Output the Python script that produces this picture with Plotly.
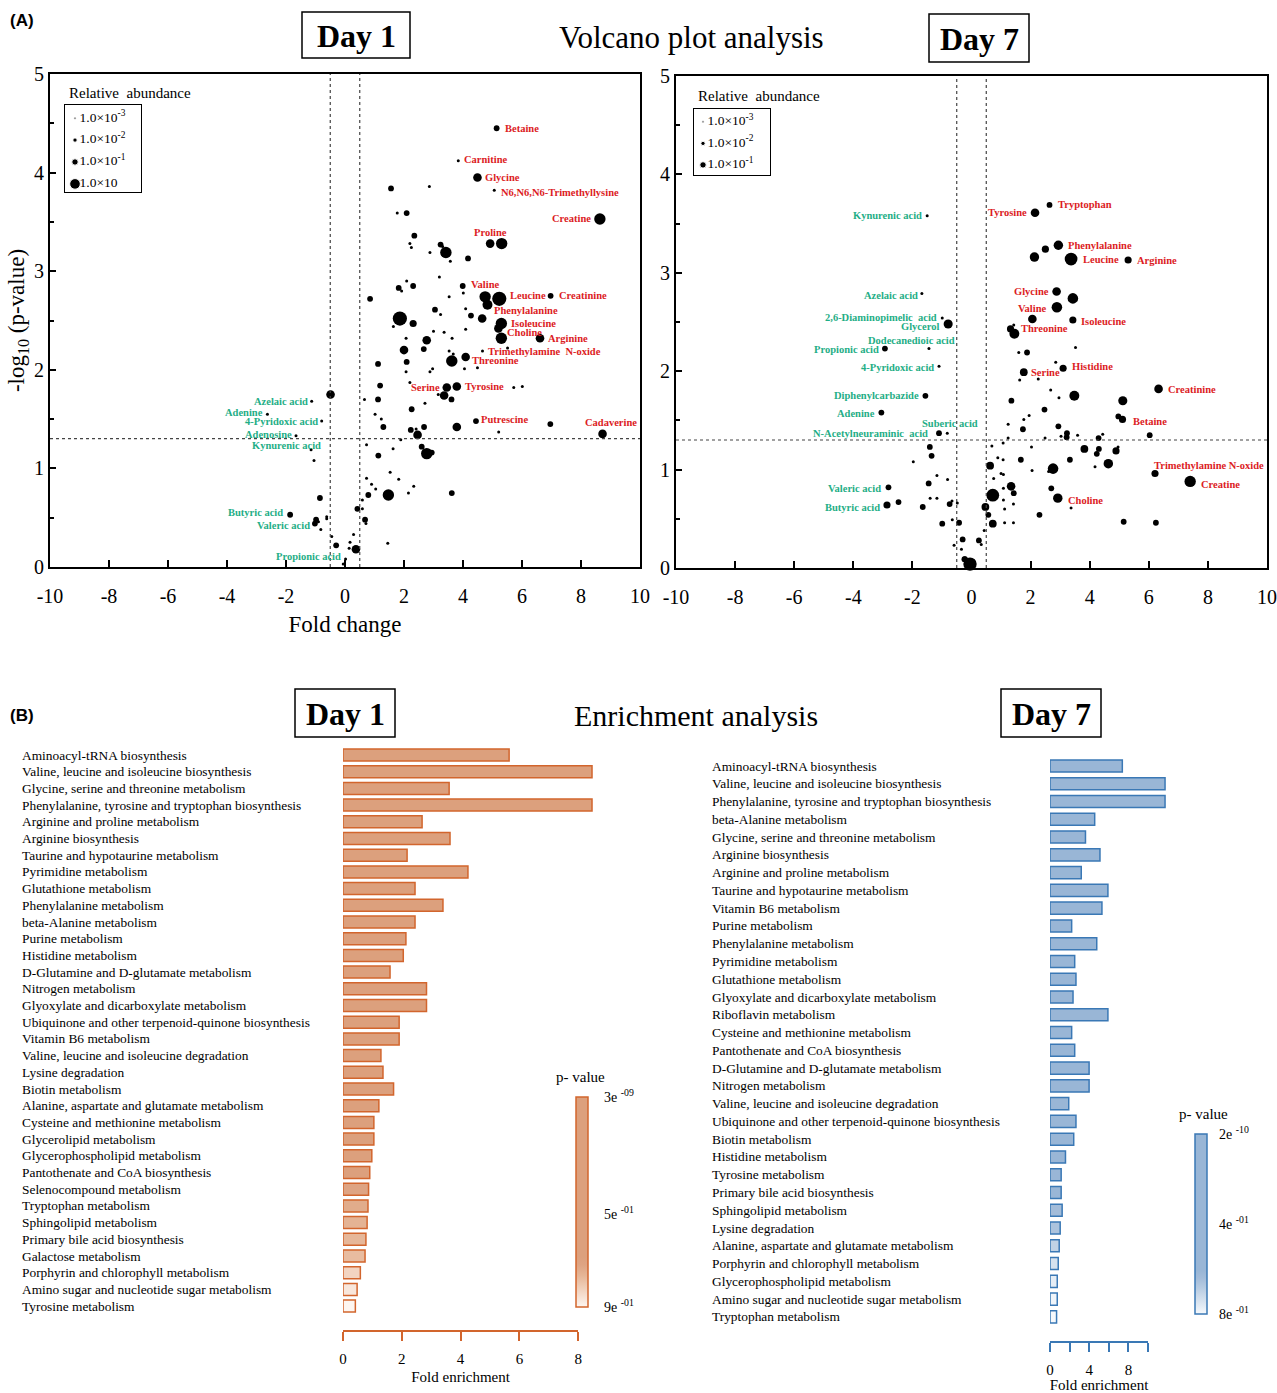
import math
import plotly.graph_objects as go

W, H = 1277, 1393
def px(x): return x / W
def py(y): return 1 - y / H

SERIF = "Liberation Serif"
RED = "#dc1c24"
GREEN = "#1fae86"
ORANGE = "#d2652d"
BLUE = "#3a78b5"

FC_CUT = 0.5
P_CUT = 0.05

# ---------------- Volcano Day 1 ----------------
d1_up_names = ["Betaine", "Carnitine", "Glycine", "N6,N6,N6-Trimethyllysine", "Creatine", "Proline",
               "Valine", "Leucine", "Creatinine", "Phenylalanine", "Isoleucine", "Choline", "Arginine",
               "Trimethylamine  N-oxide", "Threonine", "Serine", "Tyrosine", "Putrescine", "Cadaverine"]
d1_up_fc = [5.14, 3.84, 4.49, 5.06, 8.64, 4.92, 4.75, 5.23, 6.97, 4.83, 5.30, 5.30, 6.61, 4.66, 4.09,
            3.45, 3.79, 4.44, 8.73]
d1_up_logp = [4.45, 4.12, 3.95, 3.82, 3.53, 3.28, 2.74, 2.72, 2.75, 2.66, 2.47, 2.32, 2.32, 2.19, 2.13,
              1.82, 1.83, 1.48, 1.35]
d1_up_abund = [0.01, 0.001, 0.1, 0.001, 1, 0.1, 1, 10, 0.01, 0.3, 1, 1, 0.1, 0.001, 0.1, 0.1, 0.1, 0.01, 0.1]

d1_down_names = ["Azelaic acid", "Adenine", "4-Pyridoxic acid", "Adenosine", "Kynurenic acid",
                 "Butyric acid", "Valeric acid", "Propionic acid"]
d1_down_fc = [-1.13, -2.63, -0.79, -1.66, -1.15, -1.86, -1.02, 0.02]
d1_down_logp = [1.68, 1.55, 1.48, 1.33, 1.19, 0.53, 0.44, 0.08]
d1_down_abund = [0.001, 0.001, 0.001, 0.001, 0.001, 0.01, 0.01, 0.001]

d1_other_fc = [1.56, 2.86, 1.77, 2.09, 5.31, 2.35, 2.20, 2.25, 3.24, 3.31,
               3.42, 2.88, 3.57, 4.17, 3.20, 2.09, 1.82, 1.92, 2.31, 3.99,
               4.01, 3.53, 0.85, 4.09, 4.27, 4.65, 1.86, 2.31, 1.64, 3.05,
               3.24, 5.20, 4.09, 3.00, 3.36, 3.63, 2.07, 2.77, 2.00, 2.67,
               3.53, 3.67, 5.51, 3.62, 2.09, 1.12, 4.49, 4.05, 2.97, 2.88,
               2.07, 1.19, 2.20, 5.72, 6.01, 3.16, 3.36, 3.61, 1.12, 0.66,
               2.71, 2.26, -0.49, 1.02, 1.23, 1.30, 3.79, 2.23, 2.41, 2.68,
               2.46, 5.21, 6.96, 1.89, 0.73, 1.63, 2.60, 2.77, 2.94, 1.13,
               1.53, 0.73, 1.82, 0.90, 1.04, 2.33, 0.79, 1.47, 2.15, 3.62,
               0.59, 0.42, 0.59, 0.68, 0.71, 0.29, 0.17, -0.30, 0.37, 1.45,
               0.14, -0.45, -0.06, -1.05, -0.85, -0.98, -0.90, -0.82, -0.62, -0.62]
d1_other_logp = [3.84, 3.86, 3.59, 3.59, 3.28, 3.36, 3.28, 3.24, 3.27, 3.25,
                 3.19, 3.19, 3.10, 3.13, 2.94, 2.90, 2.83, 2.80, 2.85, 2.85,
                 2.78, 2.74, 2.72, 2.62, 2.55, 2.52, 2.52, 2.47, 2.44, 2.61,
                 2.56, 2.42, 2.41, 2.39, 2.38, 2.32, 2.32, 2.30, 2.20, 2.21,
                 2.19, 2.16, 2.22, 2.09, 2.08, 2.06, 2.02, 2.01, 2.01, 1.98,
                 1.98, 1.84, 1.87, 1.82, 1.83, 1.75, 1.74, 1.70, 1.70, 1.70,
                 1.66, 1.60, 1.75, 1.55, 1.50, 1.42, 1.42, 1.39, 1.40, 1.42,
                 1.34, 1.37, 1.45, 1.29, 1.24, 1.20, 1.22, 1.15, 1.16, 1.13,
                 0.96, 0.90, 0.89, 0.84, 0.79, 0.82, 0.73, 0.73, 0.75, 0.75,
                 0.68, 0.59, 0.59, 0.48, 0.44, 0.33, 0.25, 0.22, 0.18, 0.24,
                 0.19, 0.31, 0.03, 1.08, 0.70, 0.48, 0.46, 0.38, 0.49, 0.51]
d1_other_abund = [0.01, 0.001, 0.001, 0.01, 1, 0.01, 0.001, 0.001, 0.01, 0.001,
                  1, 0.001, 0.001, 0.01, 0.001, 0.001, 0.01, 0.001, 0.01, 0.01,
                  0.001, 0.001, 0.01, 0.001, 0.01, 0.1, 10, 0.03, 0.001, 0.01,
                  0.001, 0.1, 0.001, 0.001, 0.001, 0.001, 0.001, 0.1, 0.1, 0.01,
                  0.001, 0.001, 0.001, 1, 0.01, 0.01, 0.001, 0.001, 0.001, 0.001,
                  0.001, 0.01, 0.001, 0.001, 0.001, 0.001, 0.1, 0.01, 0.01, 0.001,
                  0.001, 0.01, 0.1, 0.001, 0.001, 0.01, 0.1, 0.01, 0.001, 0.01,
                  0.1, 0.001, 0.01, 0.001, 0.001, 0.001, 0.01, 1, 0.01, 0.01,
                  0.001, 0.001, 0.001, 0.001, 0.001, 0.001, 0.01, 1, 0.001, 0.01,
                  0.001, 0.01, 0.001, 0.01, 0.001, 0.001, 0.001, 0.01, 0.1, 0.001,
                  0.001, 0.001, 0.001, 0.001, 0.01, 0.01, 0.001, 0.001, 0.001, 0.001]

# ---------------- Volcano Day 7 ----------------
d7_up_names = ["Tyrosine", "Tryptophan", "Phenylalanine", "Leucine", "Arginine", "Glycine", "Valine",
               "Isoleucine", "Threonine", "Serine", "Histidine", "Creatinine", "Betaine",
               "Trimethylamine N-oxide", "Creatine", "Choline"]
d7_up_fc = [2.15, 2.64, 2.94, 3.37, 5.30, 2.88, 2.89, 3.43, 1.32, 1.77, 3.10, 6.33, 5.11, 6.21, 7.40, 2.92]
d7_up_logp = [3.61, 3.69, 3.28, 3.14, 3.13, 2.81, 2.65, 2.52, 2.43, 1.99, 2.03, 1.82, 1.51, 0.96, 0.88, 0.71]
d7_up_abund = [0.1, 0.01, 0.2, 3, 0.03, 0.1, 0.5, 0.03, 0.03, 0.05, 0.03, 0.1, 0.03, 0.03, 1, 0.2]

d7_down_names = ["Kynurenic acid", "Azelaic acid", "2,6-Diaminopimelic  acid", "Glycerol",
                 "Dodecanedioic acid", "Propionic acid", "4-Pyridoxic acid", "Diphenylcarbazide",
                 "Adenine", "Suberic acid", "N-Acetylneuraminic  acid", "Valeric acid", "Butyric acid"]
d7_down_fc = [-1.50, -1.68, -0.99, -0.79, -1.44, -2.93, -1.10, -1.56, -3.05, -0.82, -1.10, -2.81, -2.86]
d7_down_logp = [3.58, 2.79, 2.54, 2.48, 2.23, 2.23, 2.05, 1.75, 1.58, 1.37, 1.37, 0.82, 0.64]
d7_down_abund = [0.001, 0.001, 0.001, 0.15, 0.001, 0.01, 0.001, 0.01, 0.01, 0.001, 0.01, 0.01, 0.03]

d7_other_fc = [2.50, 2.13, 3.43, 2.06, 1.43, 1.45, 3.52, 1.60, 1.88, 2.85,
               1.63, 2.26, 2.68, 2.96, 3.48, 5.12, 1.35, 2.47, 1.77, 1.95,
               4.97, 1.24, 1.74, 2.94, 3.23, 3.03, 3.22, 3.59, 4.44, 4.30,
               6.03, 2.49, 1.24, 1.07, 0.69, 2.03, 3.82, 4.31, 4.24, 4.89,
               4.96, 4.63, 3.33, 4.18, 0.89, 1.07, 1.67, 0.63, 2.76, 2.61,
               2.05, 1.00, 1.08, 0.75, 1.34, 1.43, 1.08, 0.72, 2.70, 1.08,
               1.42, 1.12, 3.37, 0.47, 0.57, 2.30, 0.72, 1.12, 1.42, 5.15,
               6.24, 0.43, 0.25, 0.33, -0.24, -0.05, -1.41, -1.35, -1.97, -1.17,
               -0.81, -1.45, -2.47, -1.65, -1.40, -1.17, -0.74, -0.66, -0.48, -0.99,
               -0.65, -0.42, -0.30, -0.59, -0.34, -0.22]
d7_other_logp = [3.24, 3.16, 2.74, 2.53, 2.47, 2.38, 2.24, 2.19, 2.19, 2.09,
                 1.91, 1.92, 1.81, 1.73, 1.75, 1.70, 1.70, 1.61, 1.51, 1.55,
                 1.54, 1.46, 1.41, 1.44, 1.37, 1.34, 1.33, 1.35, 1.36, 1.32,
                 1.35, 1.32, 1.32, 1.27, 1.24, 1.23, 1.21, 1.21, 1.16, 1.19,
                 1.23, 1.06, 1.10, 1.03, 1.12, 1.10, 1.10, 1.04, 1.01, 0.98,
                 0.99, 0.96, 0.95, 0.91, 0.83, 0.76, 0.81, 0.74, 0.81, 0.69,
                 0.65, 0.60, 0.61, 0.62, 0.54, 0.54, 0.45, 0.46, 0.46, 0.47,
                 0.46, 0.38, 0.28, 0.24, 0.09, 0.04, 1.23, 1.14, 1.08, 0.94,
                 0.90, 0.86, 0.67, 0.62, 0.71, 0.71, 0.65, 0.68, 0.66, 0.45,
                 0.49, 0.46, 0.29, 0.23, 0.19, 0.09]
d7_other_abund = [0.03, 0.2, 0.5, 0.1, 0.001, 0.3, 0.001, 0.001, 0.01, 0.001,
                  0.001, 0.001, 0.001, 0.001, 0.3, 0.15, 0.01, 0.01, 0.001, 0.001,
                  0.01, 0.001, 0.01, 0.01, 0.01, 0.001, 0.01, 0.001, 0.001, 0.01,
                  0.01, 0.001, 0.001, 0.001, 0.001, 0.001, 0.05, 0.01, 0.01, 0.03,
                  0.001, 0.2, 0.01, 0.001, 0.001, 0.001, 0.01, 0.05, 0.5, 0.001,
                  0.001, 0.001, 0.001, 0.001, 0.1, 0.01, 0.001, 3, 0.01, 0.001,
                  0.001, 0.001, 0.001, 0.05, 0.01, 0.01, 0.05, 0.001, 0.001, 0.01,
                  0.01, 0.001, 0.01, 0.001, 0.01, 5, 0.01, 0.01, 0.001, 0.001,
                  0.001, 0.01, 0.01, 0.01, 0.001, 0.001, 0.01, 0.001, 0.001, 0.01,
                  0.001, 0.01, 0.01, 0.001, 0.001, 0.01]

legend1_abund = [1e-3, 1e-2, 1e-1, 10]
legend1_text = ["1.0×10<sup>-3</sup>", "1.0×10<sup>-2</sup>", "1.0×10<sup>-1</sup>", "1.0×10"]
legend7_abund = [1e-3, 1e-2, 1e-1]
legend7_text = ["1.0×10<sup>-3</sup>", "1.0×10<sup>-2</sup>", "1.0×10<sup>-1</sup>"]

# ---------------- Enrichment Day 1 ----------------
enr1_paths = ["Aminoacyl-tRNA biosynthesis", "Valine, leucine and isoleucine biosynthesis",
              "Glycine, serine and threonine metabolism", "Phenylalanine, tyrosine and tryptophan biosynthesis",
              "Arginine and proline metabolism", "Arginine biosynthesis", "Taurine and hypotaurine metabolism",
              "Pyrimidine metabolism", "Glutathione metabolism", "Phenylalanine metabolism",
              "beta-Alanine metabolism", "Purine metabolism", "Histidine metabolism",
              "D-Glutamine and D-glutamate metabolism", "Nitrogen metabolism",
              "Glyoxylate and dicarboxylate metabolism", "Ubiquinone and other terpenoid-quinone biosynthesis",
              "Vitamin B6 metabolism", "Valine, leucine and isoleucine degradation", "Lysine degradation",
              "Biotin metabolism", "Alanine, aspartate and glutamate metabolism",
              "Cysteine and methionine metabolism", "Glycerolipid metabolism", "Glycerophospholipid metabolism",
              "Pantothenate and CoA biosynthesis", "Selenocompound metabolism", "Tryptophan metabolism",
              "Sphingolipid metabolism", "Primary bile acid biosynthesis", "Galactose metabolism",
              "Porphyrin and chlorophyll metabolism", "Amino sugar and nucleotide sugar metabolism",
              "Tyrosine metabolism"]
enr1_fold = [5.65, 8.47, 3.61, 8.47, 2.69, 3.64, 2.18, 4.25, 2.45, 3.40, 2.45, 2.14, 2.05, 1.60, 2.84,
             2.84, 1.91, 1.91, 1.29, 1.36, 1.72, 1.22, 1.05, 1.05, 0.98, 0.91, 0.87, 0.85, 0.82, 0.78,
             0.75, 0.59, 0.48, 0.42]
enr1_p = [3e-9, 2e-6, 5e-6, 8e-5, 1e-4, 3e-4, 0.01, 0.02, 0.03, 0.04, 0.05, 0.06, 0.08, 0.1, 0.12,
          0.14, 0.18, 0.2, 0.24, 0.27, 0.3, 0.35, 0.4, 0.45, 0.5, 0.6, 0.72, 0.74, 0.76, 0.77, 0.78,
          0.83, 0.87, 0.9]
enr1_pticks = [3e-9, 0.5, 0.9]
enr1_ptext = ["3e <sup>-09</sup>", "5e <sup>-01</sup>", "9e <sup>-01</sup>"]

# ---------------- Enrichment Day 7 ----------------
enr7_paths = ["Aminoacyl-tRNA biosynthesis", "Valine, leucine and isoleucine biosynthesis",
              "Phenylalanine, tyrosine and tryptophan biosynthesis", "beta-Alanine metabolism",
              "Glycine, serine and threonine metabolism", "Arginine biosynthesis",
              "Arginine and proline metabolism", "Taurine and hypotaurine metabolism", "Vitamin B6 metabolism",
              "Purine metabolism", "Phenylalanine metabolism", "Pyrimidine metabolism",
              "Glutathione metabolism", "Glyoxylate and dicarboxylate metabolism", "Riboflavin metabolism",
              "Cysteine and methionine metabolism", "Pantothenate and CoA biosynthesis",
              "D-Glutamine and D-glutamate metabolism", "Nitrogen metabolism",
              "Valine, leucine and isoleucine degradation", "Ubiquinone and other terpenoid-quinone biosynthesis",
              "Biotin metabolism", "Histidine metabolism", "Tyrosine metabolism",
              "Primary bile acid biosynthesis", "Sphingolipid metabolism", "Lysine degradation",
              "Alanine, aspartate and glutamate metabolism", "Porphyrin and chlorophyll metabolism",
              "Glycerophospholipid metabolism", "Amino sugar and nucleotide sugar metabolism",
              "Tryptophan metabolism"]
enr7_fold = [7.38, 11.74, 11.74, 4.56, 3.62, 5.10, 3.19, 5.91, 5.30, 2.21, 4.77, 2.52, 2.65, 2.35, 5.91,
             2.21, 2.52, 3.99, 3.99, 1.91, 2.65, 2.42, 1.58, 1.14, 1.14, 1.24, 1.04, 0.94, 0.84, 0.74,
             0.74, 0.67]
enr7_p = [2e-10, 1e-8, 1e-8, 1e-5, 2e-5, 5e-5, 1e-4, 5e-4, 1e-3, 0.01, 0.02, 0.03, 0.04, 0.05, 0.06,
          0.08, 0.1, 0.12, 0.15, 0.18, 0.2, 0.25, 0.3, 0.4, 0.5, 0.64, 0.66, 0.7, 0.74, 0.77, 0.79, 0.8]
enr7_pticks = [2e-10, 0.4, 0.8]
enr7_ptext = ["2e <sup>-10</sup>", "4e <sup>-01</sup>", "8e <sup>-01</sup>"]


def dot_size(a):
    return 3 + 2.8 * (math.log10(a) + 3)


# label placement (anchor, x pixel shift, y pixel shift)
D1_LABEL_STYLE = {
    "Betaine": ("left", 6, 0), "Carnitine": ("left", 4, 1), "Glycine": ("left", 6, 0),
    "N6,N6,N6-Trimethyllysine": ("left", 5, -2), "Creatine": ("right", -7, 0),
    "Proline": ("center", 0, 11), "Valine": ("center", 0, 12), "Leucine": ("left", 9, 3),
    "Creatinine": ("left", 6, 0), "Phenylalanine": ("left", 5, -6), "Isoleucine": ("left", 8, 0),
    "Choline": ("left", 4, 6), "Arginine": ("left", 6, 0), "Trimethylamine  N-oxide": ("left", 4, 0),
    "Threonine": ("left", 4, -4), "Serine": ("right", -5, 0), "Tyrosine": ("left", 6, 0),
    "Putrescine": ("left", 3, 2), "Cadaverine": ("center", 8, 11),
    "Azelaic acid": ("right", -2, 0), "Adenine": ("right", -2, 2), "4-Pyridoxic acid": ("right", -2, 0),
    "Adenosine": ("right", -2, 1), "Kynurenic acid": ("right", 12, 4), "Butyric acid": ("right", -5, 2),
    "Valeric acid": ("right", -3, -2), "Propionic acid": ("right", -3, 3),
}
D7_LABEL_STYLE = {
    "Tyrosine": ("right", -6, 0), "Tryptophan": ("left", 6, 0), "Phenylalanine": ("left", 8, 0),
    "Leucine": ("left", 10, 0), "Arginine": ("left", 7, 0), "Glycine": ("right", -6, 0),
    "Valine": ("right", -8, -1), "Isoleucine": ("left", 6, -1), "Threonine": ("left", 8, 0),
    "Serine": ("left", 5, 0), "Histidine": ("left", 7, 2), "Creatinine": ("left", 7, -1),
    "Betaine": ("left", 8, -2), "Trimethylamine N-oxide": ("left", -3, 8), "Creatine": ("left", 9, -3),
    "Choline": ("left", 8, -2),
    "Kynurenic acid": ("right", -3, 0), "Azelaic acid": ("right", -2, -2),
    "2,6-Diaminopimelic  acid": ("right", -3, 1), "Glycerol": ("right", -7, -3),
    "Dodecanedioic acid": ("center", -17, 8), "Propionic acid": ("right", -4, -1),
    "4-Pyridoxic acid": ("right", -3, -1), "Diphenylcarbazide": ("right", -4, 0),
    "Adenine": ("right", -4, -1), "Suberic acid": ("center", 3, 10),
    "N-Acetylneuraminic  acid": ("right", -9, 0), "Valeric acid": ("right", -5, -1),
    "Butyric acid": ("right", -5, -2),
}

fig = go.Figure()


def add_points(fc, lp, ab, xa, ya):
    fig.add_trace(go.Scatter(x=fc, y=lp, mode="markers",
                             marker=dict(color="black", opacity=1, size=[dot_size(a) for a in ab],
                                         line=dict(width=0)),
                             cliponaxis=False, xaxis=xa, yaxis=ya, showlegend=False, hoverinfo="skip"))


add_points(d1_other_fc, d1_other_logp, d1_other_abund, "x", "y")
add_points(d1_up_fc, d1_up_logp, d1_up_abund, "x", "y")
add_points(d1_down_fc, d1_down_logp, d1_down_abund, "x", "y")
add_points(d7_other_fc, d7_other_logp, d7_other_abund, "x2", "y2")
add_points(d7_up_fc, d7_up_logp, d7_up_abund, "x2", "y2")
add_points(d7_down_fc, d7_down_logp, d7_down_abund, "x2", "y2")

# legends (size keys)
for abund, texts, xa, ya in [(legend1_abund, legend1_text, "x3", "y3"),
                             (legend7_abund, legend7_text, "x4", "y4")]:
    idx = list(range(len(abund)))
    fig.add_trace(go.Scatter(x=[0] * len(abund), y=idx, mode="markers",
                             marker=dict(color="black", opacity=1, size=[dot_size(a) * 0.75 for a in abund]),
                             xaxis=xa, yaxis=ya, showlegend=False, hoverinfo="skip"))
    fig.add_trace(go.Scatter(x=[0.45] * len(abund), y=idx, mode="text", text=texts,
                             textposition="middle right",
                             textfont=dict(family=SERIF, size=13.5, color="black"),
                             xaxis=xa, yaxis=ya, showlegend=False, hoverinfo="skip", cliponaxis=False))

# enrichment bars
fig.add_trace(go.Bar(y=enr1_paths, x=enr1_fold, orientation="h", width=0.72,
                     marker=dict(color=[-p for p in enr1_p], coloraxis="coloraxis",
                                 line=dict(color=ORANGE, width=1.5)),
                     xaxis="x5", yaxis="y5", showlegend=False, hoverinfo="skip"))
fig.add_trace(go.Scatter(x=[None], y=[None], xaxis="x6", yaxis="y5", showlegend=False))

fig.add_trace(go.Bar(y=enr7_paths, x=enr7_fold, orientation="h", width=0.68,
                     marker=dict(color=[-p for p in enr7_p], coloraxis="coloraxis2",
                                 line=dict(color=BLUE, width=1.5)),
                     xaxis="x7", yaxis="y7", showlegend=False, hoverinfo="skip"))
fig.add_trace(go.Scatter(x=[None], y=[None], xaxis="x8", yaxis="y7", showlegend=False))

tickfont20 = dict(family=SERIF, size=20, color="black")
xt = list(range(-10, 11, 2))
vol_x = dict(range=[-10, 10], showline=True, mirror=True, linecolor="black", linewidth=2,
             ticks="inside", ticklen=7, tickwidth=1.5, tickcolor="black",
             tickvals=xt, ticktext=[str(v) for v in xt], tickfont=tickfont20,
             showgrid=False, zeroline=False, ticklabelstandoff=10, automargin=False)
vol_y = dict(range=[0, 5], showline=True, mirror=True, linecolor="black", linewidth=2,
             ticks="inside", ticklen=6, tickwidth=1.5, tickcolor="black",
             tickvals=[0, 1, 2, 3, 4, 5], tickfont=tickfont20, showgrid=False, zeroline=False,
             automargin=False,
             minor=dict(dtick=0.5, tick0=0, ticks="inside", ticklen=4, tickcolor="black"))

leg_ax = dict(showline=True, mirror=True, linecolor="black", linewidth=1, showticklabels=False,
              ticks="", showgrid=False, zeroline=False, fixedrange=True, automargin=False)
hidden = dict(visible=False, showgrid=False, zeroline=False, automargin=False)

n1 = len(enr1_paths)
n7 = len(enr7_paths)
row1 = 16.7
row7 = 17.77

cbar_common = dict(xanchor="left", thickness=12, thicknessmode="pixels", lenmode="pixels",
                   yanchor="middle", xpad=0, ypad=0, outlinewidth=1.5, ticks="outside",
                   tickcolor="rgba(0,0,0,0)", tickfont=dict(family=SERIF, size=14))

layout = dict(
    template="none",
    width=W, height=H, margin=dict(l=0, r=0, t=0, b=0, pad=0, autoexpand=False),
    paper_bgcolor="white", plot_bgcolor="rgba(0,0,0,0)",
    font=dict(family=SERIF, color="black"),
    xaxis=dict(vol_x, domain=[px(50), px(640)], anchor="y",
               title=dict(text="Fold change", font=dict(family=SERIF, size=23), standoff=10)),
    yaxis=dict(vol_y, domain=[py(567), py(74)], anchor="x",
               title=dict(text="-log<sub>10</sub> (p-value)", font=dict(family=SERIF, size=23), standoff=3)),
    xaxis2=dict(vol_x, domain=[px(676), px(1267)], anchor="y2"),
    yaxis2=dict(vol_y, domain=[py(568), py(76)], anchor="x2"),
    xaxis3=dict(leg_ax, domain=[px(65), px(141)], range=[-1, 6.6], anchor="y3"),
    yaxis3=dict(leg_ax, domain=[py(192), py(105)], range=[3.37, -0.6], anchor="x3"),
    xaxis4=dict(leg_ax, domain=[px(694), px(770)], range=[-0.9, 6.7], anchor="y4"),
    yaxis4=dict(leg_ax, domain=[py(175), py(109)], range=[2.47, -0.6], anchor="x4"),
    xaxis5=dict(hidden, domain=[px(343), px(343 + 9.2 * 29.4)], range=[0, 9.2], anchor="y5"),
    yaxis5=dict(hidden, type="category", categoryorder="array", categoryarray=enr1_paths,
                range=[n1 - 0.5, -0.5], anchor="x5",
                domain=[py(755 + (n1 - 0.5) * row1), py(755 - 0.5 * row1)]),
    xaxis6=dict(domain=[px(343), px(343 + 8 * 29.4)], range=[0, 8], anchor="free", position=py(1331),
                showline=True, linecolor=ORANGE, linewidth=2, ticks="outside", ticklen=9, tickwidth=2,
                tickcolor=ORANGE, tickvals=[0, 2, 4, 6, 8], tickfont=dict(family=SERIF, size=15),
                showgrid=False, zeroline=False, ticklabelstandoff=5, automargin=False,
                title=dict(text="Fold enrichment", font=dict(family=SERIF, size=15), standoff=4)),
    xaxis7=dict(hidden, domain=[px(1050), px(1050 + 12.6 * 9.8)], range=[0, 12.6], anchor="y7"),
    yaxis7=dict(hidden, type="category", categoryorder="array", categoryarray=enr7_paths,
                range=[n7 - 0.5, -0.5], anchor="x7",
                domain=[py(766 + (n7 - 0.5) * row7), py(766 - 0.5 * row7)]),
    xaxis8=dict(domain=[px(1050), px(1050 + 10 * 9.8)], range=[0, 10], anchor="free", position=py(1342),
                showline=True, linecolor=BLUE, linewidth=2, ticks="outside", ticklen=9, tickwidth=2,
                tickcolor=BLUE, tickvals=[0, 2, 4, 6, 8, 10], ticktext=["0", " ", "4", " ", "8", " "],
                tickfont=dict(family=SERIF, size=15), showgrid=False, zeroline=False, ticklabelstandoff=5,
                automargin=False,
                title=dict(text="Fold enrichment", font=dict(family=SERIF, size=15), standoff=2)),
    coloraxis=dict(cmin=-max(enr1_p), cmax=-min(enr1_p),
                   colorscale=[[0, "#fdf6f1"], [0.05, "#f6e0d2"], [0.1, "#eecbb4"], [0.15, "#e5b596"],
                               [0.2, "#dea483"], [0.24, "#dca07d"], [1, "#dca07d"]],
                   colorbar=dict(cbar_common, x=px(576), len=210, y=py(1202), outlinecolor=ORANGE,
                                 ticklen=13, tickvals=[-p for p in enr1_pticks], ticktext=enr1_ptext)),
    coloraxis2=dict(cmin=-max(enr7_p), cmax=-min(enr7_p),
                    colorscale=[[0, "#f6f9fc"], [0.05, "#e0e9f3"], [0.1, "#cbdaea"], [0.15, "#b5cae1"],
                                [0.2, "#a3bcd9"], [0.24, "#99b6d6"], [1, "#99b6d6"]],
                    colorbar=dict(cbar_common, x=px(1195), len=180, y=py(1224), outlinecolor=BLUE,
                                  ticklen=9, tickvals=[-p for p in enr7_pticks], ticktext=enr7_ptext)),
)
fig.update_layout(**layout)

# threshold lines
shapes = []
for xa, ya in [("x", "y"), ("x2", "y2")]:
    for fx in (-FC_CUT, FC_CUT):
        shapes.append(dict(type="line", xref=xa, yref=ya + " domain", x0=fx, x1=fx, y0=0, y1=1,
                           line=dict(color="#444", width=1.2, dash="dot")))
    shapes.append(dict(type="line", xref=xa + " domain", yref=ya, x0=0, x1=1,
                       y0=-math.log10(P_CUT), y1=-math.log10(P_CUT),
                       line=dict(color="#444", width=1.2, dash="dot")))
# title boxes
for (x0, y0, x1, y1) in [(302, 12, 410, 58), (929, 14, 1029, 62), (295, 689, 395, 737), (1001, 689, 1101, 737)]:
    shapes.append(dict(type="rect", xref="paper", yref="paper", x0=px(x0), x1=px(x1), y0=py(y1), y1=py(y0),
                       line=dict(color="black", width=1.5)))
fig.update_layout(shapes=shapes)

ann = []
def text(x, y, s, size, bold=False, xanchor="center", family=SERIF, **kw):
    ann.append(dict(x=px(x), y=py(y), xref="paper", yref="paper", text=s, showarrow=False,
                    xanchor=xanchor, yanchor="middle",
                    font=dict(family=family, size=size, color="black", weight="bold" if bold else "normal"), **kw))

text(8, 20, "(A)", 17, bold=True, xanchor="left", family="Liberation Sans")
text(8, 716, "(B)", 17, bold=True, xanchor="left", family="Liberation Sans")
text(356, 36, "Day 1", 32, bold=True)
text(979, 39, "Day 7", 32, bold=True)
text(345, 714, "Day 1", 32, bold=True)
text(1051, 714, "Day 7", 32, bold=True)
text(691, 38, "Volcano plot analysis", 31)
text(696, 716, "Enrichment analysis", 30)
text(67, 93, "Relative  abundance", 15, xanchor="left")
text(696, 96, "Relative  abundance", 15, xanchor="left")
text(580, 1077, "p- value", 15)
text(1203, 1114, "p- value", 15)

# metabolite labels
for names, fcs, lps, color, style, default, xa, ya in [
        (d1_up_names, d1_up_fc, d1_up_logp, RED, D1_LABEL_STYLE, ("left", 6, 0), "x", "y"),
        (d1_down_names, d1_down_fc, d1_down_logp, GREEN, D1_LABEL_STYLE, ("right", -4, 0), "x", "y"),
        (d7_up_names, d7_up_fc, d7_up_logp, RED, D7_LABEL_STYLE, ("left", 6, 0), "x2", "y2"),
        (d7_down_names, d7_down_fc, d7_down_logp, GREEN, D7_LABEL_STYLE, ("right", -4, 0), "x2", "y2")]:
    for n, f, l in zip(names, fcs, lps):
        anchor, dx, dy = style.get(n, default)
        ann.append(dict(x=f, y=l, xref=xa, yref=ya, text=n, showarrow=False, xanchor=anchor,
                        yanchor="middle", xshift=dx, yshift=dy,
                        font=dict(family=SERIF, size=10.5, color=color, weight="bold")))

for name in enr1_paths:
    ann.append(dict(x=px(20), xref="paper", y=name, yref="y5", text=name, showarrow=False,
                    xanchor="left", yanchor="middle", font=dict(family=SERIF, size=13.4, color="black")))
for name in enr7_paths:
    ann.append(dict(x=px(710), xref="paper", y=name, yref="y7", text=name, showarrow=False,
                    xanchor="left", yanchor="middle", font=dict(family=SERIF, size=13.4, color="black")))
fig.update_layout(annotations=ann)

fig.write_html("out.html", config={"displayModeBar": False},
               post_script="document.body.style.margin='0';document.body.style.padding='0';"
                           "document.documentElement.style.overflow='hidden';")
